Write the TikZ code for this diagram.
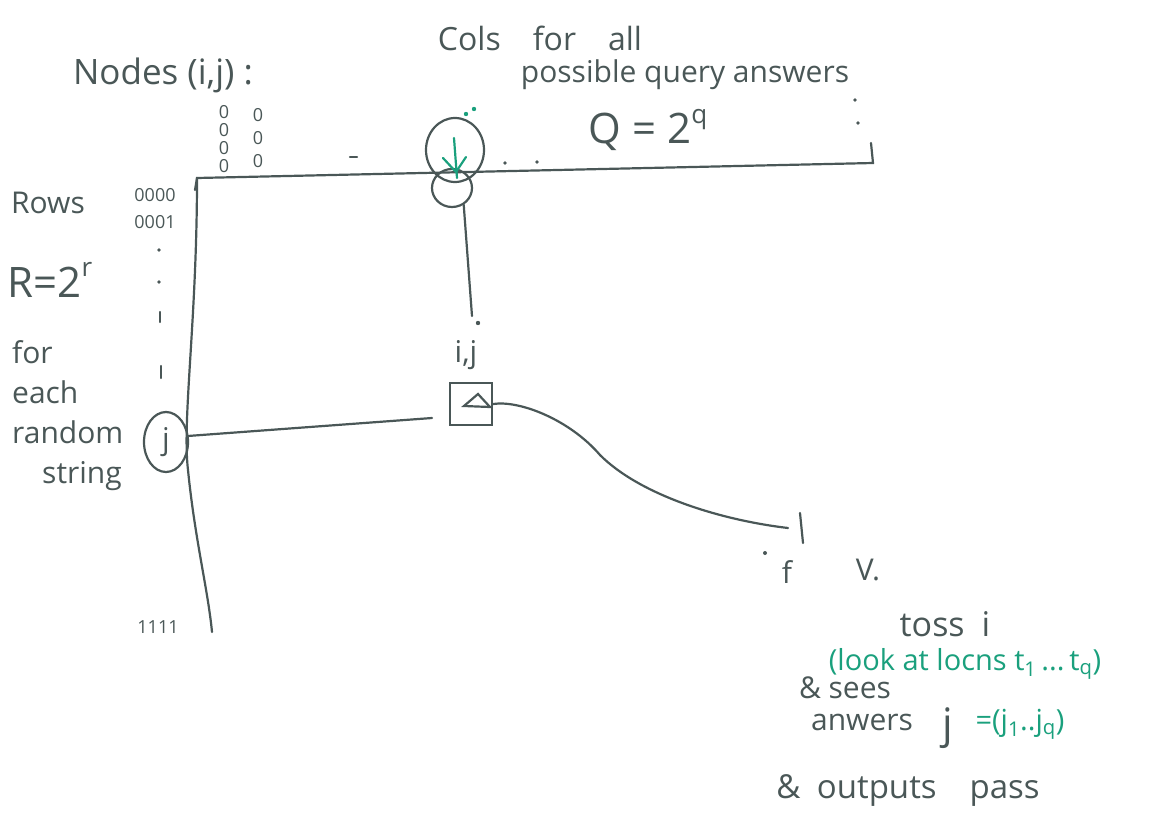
\documentclass[tikz,border=0pt]{standalone}
\usepackage{fontspec}
\setmainfont{Open Sans}
\usetikzlibrary{shapes.geometric}
\definecolor{ink}{RGB}{74,87,87}
\definecolor{pen}{RGB}{26,160,125}
\tikzset{
  hand/.style={text=ink, inner sep=0pt, font=\fontsize{30}{40}\selectfont},
  big/.style={hand, font=\fontsize{42}{46}\selectfont},
  bits/.style={text=ink, inner sep=0pt, font=\fontsize{18}{19}\selectfont},
  note/.style={text=pen, inner sep=0pt, font=\fontsize{29}{32}\selectfont},
  wire/.style={draw=ink, line width=2.2pt, line cap=round},
  gwire/.style={draw=pen, line width=2.2pt, line cap=round},
  blob/.style={wire, ellipse, inner sep=0pt},
}
\begin{document}
\begin{tikzpicture}[x=1pt,y=-1pt]
  \useasboundingbox (0,0) rectangle (1160,830);
  % labels
  \node[hand, font=\fontsize{35}{40}\selectfont] (nodes) at (163,75) {Nodes (i,j) :};
  \node[hand, font=\fontsize{32}{40}\selectfont] (cols) at (540,38) {Cols\quad for\quad all};
  \node[hand] (query) at (685,75) {possible query answers};
  \node[big] (Q) at (648,130) {Q = 2\raisebox{0.9ex}{\fontsize{26}{28}\selectfont q}};
  \node[hand] (rows) at (48,203) {Rows};
  \node[big] (R) at (50,280) {R=2\raisebox{0.9ex}{\fontsize{26}{28}\selectfont r}};
  \node[hand, align=left, anchor=north west] (each) at (12,340)
    {for\\each\\random\\\hspace{30pt}string};
  % bit columns
  \foreach \y [count=\k] in {112,130,148,166}
    \node[bits] (a\k) at (224,\y) {0};
  \foreach \y [count=\k] in {115,138,161}
    \node[bits] (b\k) at (258,\y) {0};
  \node[bits] (r0) at (155,195) {0000};
  \node[bits] (r1) at (155,222) {0001};
  \node[bits] (rn) at (158,627) {1111};
  \foreach \y in {250,282}
    \fill[ink] (159,\y) circle (1.8);
  \draw[wire] (160,312) -- (160,322);
  \draw[wire] (161,366) -- (161,378);
  % axes
  \coordinate (o) at (197,178);
  \coordinate (qend) at (873,163);
  \coordinate (rend) at (212,632);
  \draw[wire] (195,190) -- (o) -- (qend) -- (871,143);
  \draw[wire] (o) .. controls (197,320) and (182,420) .. (188,470)
    .. controls (195,540) and (208,590) .. (rend);
  \draw[wire] (350,157) -- (357,157);
  \foreach \p in {(505,163),(537,162),(855,100),(858,123)}
    \fill[ink] \p circle (1.8);
  % column node
  \node[blob, minimum width=58, minimum height=64] (col) at (455,150) {};
  \node[blob, minimum width=40, minimum height=38] (colb) at (452,188) {};
  \draw[gwire] (454,138) -- (457,178);
  \draw[gwire] (443,158) -- (456,172) -- (466,157);
  \fill[pen] (466,114) circle (2.2) (474,109) circle (2.2);
  % row node
  \node[blob, minimum width=44, minimum height=60, hand] (row) at (166,442) {j};
  % cell
  \node[wire, minimum width=42, minimum height=42] (box) at (471,404) {};
  \node[hand] (ij) at (466,355) {i,j};
  \coordinate (cell) at (472,316);
  \coordinate (rowend) at (432,418);
  \draw[wire] (colb.-55) -- (cell);
  \fill[ink] (478,323) circle (2.2);
  \draw[wire] (row.15) -- (rowend);
  \draw[wire] (478,394) -- (464,406) -- (490,407) -- cycle;
  % verifier
  \node[hand] (f) at (787,572) {f};
  \node[hand] (V) at (868,570) {V.};
  \coordinate (tip) at (788,528);
  \draw[wire] (box.east) .. controls (520,400) and (570,420) .. (600,455)
    .. controls (640,495) and (720,520) .. (tip);
  \draw[wire] (800,513) -- (803,543);
  \fill[ink] (765,553) circle (2);
  % what V does
  \node[hand, font=\fontsize{34}{40}\selectfont] (toss) at (945,624) {toss\enspace i};
  \node[note] (look) at (965,664)
    {(look at locns t\textsubscript{1}\,...\,t\textsubscript{q})};
  \node[hand] (sees) at (845,688) {\& sees};
  \node[hand] (answ) at (862,722) {anwers};
  \node[big] (j) at (948,728) {j};
  \node[note] (jvec) at (1020,724) {=(j\textsubscript{1}..j\textsubscript{q})};
  \node[hand, font=\fontsize{33}{40}\selectfont] (out) at (908,790) {\&\enspace outputs\quad pass};
\end{tikzpicture}
\end{document}
